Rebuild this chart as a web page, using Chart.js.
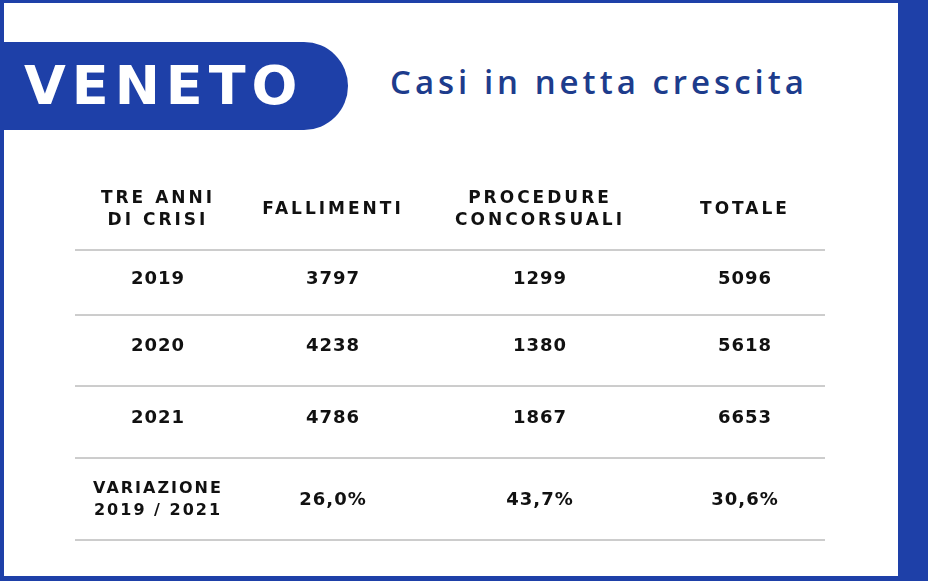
<!DOCTYPE html>
<html>
<head>
<meta charset="utf-8">
<script src="https://cdn.jsdelivr.net/npm/chart.js@4.4.0/dist/chart.umd.min.js"></script>
<style>
  html, body { margin: 0; padding: 0; background: #1e40a8; }
  #wrap { position: relative; width: 928px; height: 581px; overflow: hidden; background: #1e40a8; }
  #card { position: absolute; left: 4px; top: 3px; width: 894px; height: 573px; background: #fff; }
  #tab { position: absolute; left: 0; top: 42px; width: 348px; height: 88px; background: #1e40a8;
         border-radius: 0 44px 44px 0; color: #fff; font: bold 54px "DejaVu Sans", sans-serif;
         letter-spacing: 6px; line-height: 88px; padding-left: 24px; box-sizing: border-box; }
  #title { position: absolute; left: 390px; top: 59px; color: #1d3c8c; font: 600 33px "Open Sans", sans-serif; letter-spacing: 4px; }
  canvas { position: absolute; left: 0; top: 0; }
</style>
</head>
<body>
<div id="wrap">
  <div id="card"></div>
  <div id="tab">VENETO</div>
  <div id="title">Casi in netta crescita</div>
  <canvas id="c" width="928" height="581"></canvas>
</div>
<script>
// table data
const headers = [['TRE ANNI', 'DI CRISI'], ['FALLIMENTI'], ['PROCEDURE', 'CONCORSUALI'], ['TOTALE']];
const years = ['2019', '2020', '2021', 'VARIAZIONE\n2019 / 2021'];
const fallimenti = ['3797', '4238', '4786', '26,0%'];
const procedure = ['1299', '1380', '1867', '43,7%'];
const totale = ['5096', '5618', '6653', '30,6%'];

// layout (page pixels, mapped through linear scales)
const colX = [158, 333, 540, 745];
const headerY = 210;
const rowY = [279, 346, 418, 500];
const lineY = [250, 315, 386, 458, 540];

const tablePlugin = {
  id: 'table',
  afterDraw(chart) {
    const { ctx, scales: { x, y } } = chart;
    ctx.save();
    ctx.strokeStyle = '#9a9a9a';
    ctx.lineWidth = 1;
    lineY.forEach(v => {
      ctx.beginPath();
      ctx.moveTo(x.getPixelForValue(75), y.getPixelForValue(v));
      ctx.lineTo(x.getPixelForValue(825), y.getPixelForValue(v));
      ctx.stroke();
    });
    ctx.fillStyle = '#111';
    ctx.textAlign = 'center';
    ctx.textBaseline = 'middle';
    ctx.font = 'bold 17px "DejaVu Sans", sans-serif';
    ctx.letterSpacing = '3px';
    headers.forEach((h, i) => {
      h.forEach((line, j) => {
        const off = (j - (h.length - 1) / 2) * 22;
        ctx.fillText(line, x.getPixelForValue(colX[i]), y.getPixelForValue(headerY + off));
      });
    });
    const cols = [years, fallimenti, procedure, totale];
    cols.forEach((col, i) => {
      col.forEach((val, r) => {
        const lines = val.split('\n');
        ctx.font = lines.length > 1 ? 'bold 16px "DejaVu Sans", sans-serif' : 'bold 18px "DejaVu Sans", sans-serif';
        ctx.letterSpacing = lines.length > 1 ? '2px' : '1px';
        lines.forEach((line, j) => {
          const off = (j - (lines.length - 1) / 2) * 22;
          ctx.fillText(line, x.getPixelForValue(colX[i]), y.getPixelForValue(rowY[r] + off));
        });
      });
    });
    ctx.restore();
  }
};

new Chart(document.getElementById('c'), {
  type: 'scatter',
  data: { datasets: [{ data: [] }] },
  options: {
    responsive: false,
    animation: false,
    layout: { padding: 0 },
    plugins: { legend: { display: false }, tooltip: { enabled: false } },
    scales: {
      x: { type: 'linear', min: 0, max: 928, display: false },
      y: { type: 'linear', min: 0, max: 581, reverse: true, display: false }
    }
  },
  plugins: [tablePlugin]
});
</script>
</body>
</html>
